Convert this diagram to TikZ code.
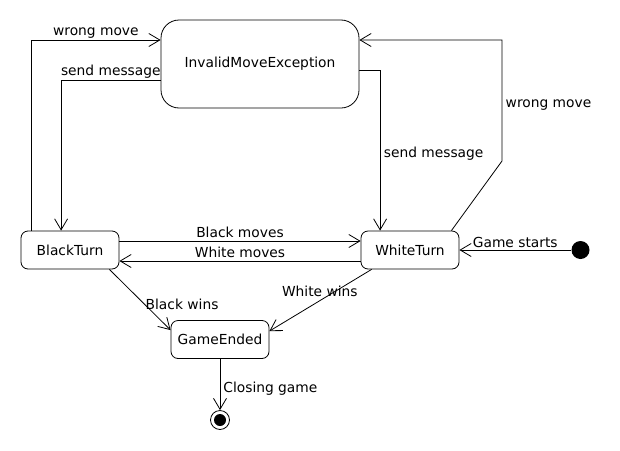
\documentclass[tikz,border=0pt]{standalone}
\usepackage{fontspec}
\setmainfont{DejaVu Sans}
\usepackage{tikz}
\usetikzlibrary{arrows.meta}

\begin{document}
\begin{tikzpicture}[x=1pt, y=-1pt, line width=0.8pt, font=\fontsize{13.8}{16}\selectfont,
  stbox/.style={draw, rounded corners=7pt, minimum width=98pt, minimum height=38pt, inner sep=2pt},
  arr/.style={-{Straight Barb[length=11pt,width=13pt,line width=0.8pt]}}]
\useasboundingbox (0,0) rectangle (620,450);
\node[stbox, rounded corners=18pt, minimum width=198pt, minimum height=88pt] (invalid) at (260,64) {InvalidMoveException};
\node[stbox] (black) at (70,250) {BlackTurn};
\node[stbox] (white) at (410,250) {WhiteTurn};
\node[stbox] (ended) at (220,339.5) {GameEnded};
\node[circle, fill, minimum size=18pt, inner sep=0pt] (init) at (580.5,250) {};
\node[circle, draw, minimum size=19pt, inner sep=0pt] (final) at (220,420) {};
\fill (final) circle (6pt);
\coordinate (wbend) at (502,161);
\draw [arr] ([yshift=9pt]black.east) -- node[above]{Black moves} ([yshift=9pt]white.west);
\draw [arr] ([yshift=-11pt]white.west) -- node[above, inner sep=3pt]{White moves} ([yshift=-11pt]black.east);
\draw [arr] (init) -- node[above, inner sep=2pt]{Game starts} (white);
\draw [arr] (ended) -- node[pos=0.58, right, inner sep=3pt]{Closing game} (final);
\draw [arr] ([xshift=-10pt]black.south east) -- node[pos=0.57, anchor=west, inner sep=1pt]{Black wins} ([yshift=-10pt]ended.north west);
\draw [arr] ([xshift=11pt]white.south west) -- node[pos=0.36, xshift=-15pt]{White wins} ([yshift=-11pt]ended.north east);
\draw [arr] ([xshift=10.5pt]black.north west) |- node[pos=0.75, above, inner sep=1pt]{wrong move} ([yshift=24pt]invalid.west);
\draw [arr] ([yshift=-16pt]invalid.west) -| node[pos=0.25, above, inner sep=1pt]{send message} ([xshift=40.5pt]black.north west);
\draw [arr] ([yshift=-6pt]invalid.east) -| node[pos=0.76, right]{send message} ([xshift=19.5pt]white.north west);
\draw [arr] ([xshift=-8pt]white.north east) -- (wbend) |- node[pos=0.23, right]{wrong move} ([yshift=24pt]invalid.east);
\end{tikzpicture}
\end{document}
